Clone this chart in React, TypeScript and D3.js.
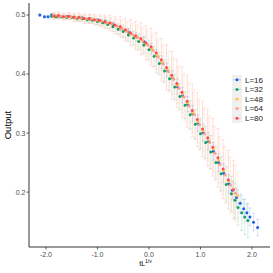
import * as d3 from "d3";

const SERIES = ["L=16", "L=32", "L=48", "L=64", "L=80"];
const COLORS = ["#1f5fe6", "#17a263", "#ffc24f", "#ff9f86", "#ff4d4d"];

const X16 = [-2.12, -2.03, -1.96, -1.89, -1.75, -1.6, -1.45, -1.3, -1.15, -1.0, -0.85, -0.7, -0.55, -0.4, -0.25, -0.1, 0.05, 0.15, 0.25, 0.35, 0.45, 0.55, 0.65, 0.75, 0.85, 0.95, 1.05, 1.15, 1.25, 1.35, 1.45, 1.55, 1.62, 1.7, 1.77, 1.84, 1.9, 1.96, 2.03, 2.11];
const Y16 = [0.5, 0.497, 0.497, 0.5, 0.498, 0.497, 0.496, 0.495, 0.493, 0.491, 0.489, 0.484, 0.478, 0.471, 0.463, 0.455, 0.443, 0.432, 0.42, 0.407, 0.394, 0.379, 0.364, 0.349, 0.333, 0.317, 0.301, 0.286, 0.269, 0.25, 0.232, 0.214, 0.203, 0.191, 0.181, 0.172, 0.165, 0.158, 0.149, 0.14];
const E16 = [0.002, 0.002, 0.002, 0.002, 0.002, 0.002, 0.002, 0.003, 0.003, 0.003, 0.004, 0.004, 0.005, 0.006, 0.007, 0.008, 0.009, 0.01, 0.011, 0.012, 0.012, 0.013, 0.013, 0.013, 0.014, 0.014, 0.014, 0.015, 0.015, 0.015, 0.016, 0.016, 0.016, 0.016, 0.016, 0.016, 0.015, 0.015, 0.015, 0.014];

const X32 = [-1.89, -1.8, -1.7, -1.6, -1.5, -1.4, -1.3, -1.2, -1.1, -1.0, -0.9, -0.8, -0.7, -0.6, -0.5, -0.4, -0.3, -0.2, -0.1, 0.0, 0.1, 0.2, 0.3, 0.4, 0.5, 0.6, 0.7, 0.8, 0.9, 1.0, 1.1, 1.2, 1.3, 1.4, 1.5, 1.6, 1.67, 1.73, 1.8, 1.86, 1.92];
const Y32 = [0.498, 0.497, 0.497, 0.496, 0.496, 0.494, 0.494, 0.492, 0.491, 0.489, 0.487, 0.484, 0.48, 0.476, 0.472, 0.466, 0.461, 0.455, 0.449, 0.441, 0.43, 0.418, 0.405, 0.392, 0.378, 0.362, 0.347, 0.331, 0.315, 0.299, 0.284, 0.268, 0.25, 0.231, 0.213, 0.197, 0.186, 0.174, 0.165, 0.158, 0.152];
const E32 = [0.003, 0.003, 0.003, 0.003, 0.003, 0.004, 0.004, 0.004, 0.005, 0.005, 0.006, 0.007, 0.008, 0.009, 0.01, 0.011, 0.012, 0.013, 0.014, 0.016, 0.017, 0.018, 0.019, 0.02, 0.021, 0.022, 0.023, 0.024, 0.025, 0.026, 0.027, 0.028, 0.028, 0.029, 0.03, 0.03, 0.03, 0.03, 0.03, 0.03, 0.029];

const X48 = [-1.85, -1.75, -1.65, -1.55, -1.45, -1.35, -1.25, -1.15, -1.05, -0.95, -0.85, -0.75, -0.65, -0.55, -0.45, -0.35, -0.25, -0.15, -0.05, 0.05, 0.15, 0.25, 0.35, 0.45, 0.55, 0.65, 0.75, 0.85, 0.95, 1.05, 1.15, 1.25, 1.35, 1.45, 1.55, 1.64, 1.72];
const Y48 = [0.499, 0.498, 0.497, 0.497, 0.496, 0.495, 0.494, 0.493, 0.492, 0.49, 0.488, 0.486, 0.482, 0.478, 0.474, 0.468, 0.463, 0.458, 0.451, 0.443, 0.432, 0.42, 0.408, 0.395, 0.381, 0.366, 0.351, 0.335, 0.319, 0.304, 0.289, 0.273, 0.254, 0.236, 0.218, 0.205, 0.194];
const E48 = [0.004, 0.004, 0.004, 0.004, 0.005, 0.005, 0.005, 0.006, 0.006, 0.007, 0.008, 0.009, 0.01, 0.012, 0.013, 0.015, 0.017, 0.019, 0.021, 0.023, 0.025, 0.027, 0.028, 0.03, 0.031, 0.032, 0.033, 0.034, 0.035, 0.036, 0.037, 0.038, 0.039, 0.04, 0.04, 0.04, 0.04];

const X64 = [-1.82, -1.72, -1.62, -1.52, -1.42, -1.32, -1.22, -1.12, -1.02, -0.92, -0.82, -0.72, -0.62, -0.52, -0.42, -0.32, -0.22, -0.12, -0.02, 0.08, 0.18, 0.28, 0.38, 0.48, 0.58, 0.68, 0.78, 0.88, 0.98, 1.08, 1.18, 1.28, 1.38, 1.48, 1.58, 1.68];
const Y64 = [0.499, 0.498, 0.497, 0.497, 0.495, 0.495, 0.493, 0.493, 0.491, 0.49, 0.487, 0.485, 0.481, 0.477, 0.472, 0.467, 0.462, 0.456, 0.449, 0.44, 0.429, 0.417, 0.404, 0.391, 0.376, 0.361, 0.346, 0.331, 0.314, 0.299, 0.284, 0.266, 0.247, 0.229, 0.212, 0.198];
const E64 = [0.005, 0.005, 0.005, 0.005, 0.006, 0.006, 0.007, 0.007, 0.008, 0.009, 0.01, 0.011, 0.013, 0.015, 0.017, 0.019, 0.022, 0.024, 0.027, 0.029, 0.031, 0.033, 0.035, 0.037, 0.038, 0.04, 0.041, 0.042, 0.043, 0.044, 0.045, 0.046, 0.047, 0.048, 0.048, 0.048];

const X80 = [-1.84, -1.76, -1.66, -1.56, -1.46, -1.36, -1.26, -1.16, -1.06, -0.96, -0.86, -0.76, -0.66, -0.56, -0.46, -0.36, -0.26, -0.16, -0.06, 0.04, 0.14, 0.24, 0.34, 0.44, 0.54, 0.64, 0.74, 0.84, 0.94, 1.04, 1.14, 1.24, 1.34, 1.44, 1.54, 1.64];
const Y80 = [0.498, 0.499, 0.497, 0.498, 0.496, 0.496, 0.494, 0.494, 0.492, 0.491, 0.488, 0.487, 0.483, 0.48, 0.475, 0.47, 0.465, 0.46, 0.453, 0.446, 0.436, 0.424, 0.411, 0.398, 0.384, 0.369, 0.354, 0.338, 0.323, 0.307, 0.292, 0.276, 0.258, 0.239, 0.221, 0.204];
const E80 = [0.006, 0.006, 0.006, 0.006, 0.007, 0.007, 0.008, 0.008, 0.009, 0.01, 0.011, 0.013, 0.015, 0.017, 0.019, 0.022, 0.024, 0.027, 0.029, 0.032, 0.034, 0.036, 0.038, 0.04, 0.041, 0.043, 0.044, 0.045, 0.046, 0.047, 0.048, 0.049, 0.05, 0.05, 0.05, 0.05];

const X_TICKS = [-2, -1, 0, 1, 2];
const Y_TICKS = [0.2, 0.3, 0.4, 0.5];

const XS = [X16, X32, X48, X64, X80];
const YS = [Y16, Y32, Y48, Y64, Y80];
const ES = [E16, E32, E48, E64, E80];

const W = 273;
const H = 273;
const panel = { left: 29, right: 270, top: 3, bottom: 247 };

export default function App() {
  const x = d3.scaleLinear().domain([-2.33, 2.35]).range([panel.left, panel.right]);
  const y = d3.scaleLinear().domain([0.107, 0.5203]).range([panel.bottom, panel.top]);
  const fmt = (v: number) => d3.format(".1f")(v).replace("−", "-");

  const series = SERIES.map((name, i) => ({
    name,
    color: COLORS[i],
    pts: XS[i].map((xv, j) => ({ x: xv, y: YS[i][j], e: ES[i][j] })),
  }));

  const legendTop = 75;
  const rowH = 9.6;

  return (
    <div style={{ position: "fixed", left: 0, top: 0 }}>
      <svg width={W} height={H} style={{ display: "block", background: "#fff" }} fontFamily="'Liberation Sans', Arial, sans-serif">
        {/* error bars */}
        {series.map((s) => (
          <g key={s.name} stroke={s.color} strokeOpacity={0.22} strokeWidth={0.8}>
            {s.pts.map((p, j) => (
              <g key={j}>
                <line x1={x(p.x)} x2={x(p.x)} y1={y(p.y - p.e)} y2={y(p.y + p.e)} />
                <line x1={x(p.x) - 1.5} x2={x(p.x) + 1.5} y1={y(p.y - p.e)} y2={y(p.y - p.e)} />
                <line x1={x(p.x) - 1.5} x2={x(p.x) + 1.5} y1={y(p.y + p.e)} y2={y(p.y + p.e)} />
              </g>
            ))}
          </g>
        ))}
        {/* points */}
        {series.map((s) => (
          <g key={s.name} fill={s.color}>
            {s.pts.map((p, j) => (
              <circle key={j} cx={x(p.x)} cy={y(p.y)} r={1.5} />
            ))}
          </g>
        ))}

        {/* axes */}
        <line x1={panel.left} x2={panel.left} y1={panel.top} y2={panel.bottom} stroke="#333" strokeWidth={1} />
        <line x1={panel.left} x2={panel.right} y1={panel.bottom} y2={panel.bottom} stroke="#333" strokeWidth={1} />
        {Y_TICKS.map((t) => (
          <g key={t}>
            <line x1={panel.left - 2.5} x2={panel.left} y1={y(t)} y2={y(t)} stroke="#333" strokeWidth={0.8} />
            <text x={panel.left - 3.5} y={y(t)} dy="0.35em" textAnchor="end" fontSize={7} fill="#4d4d4d">
              {fmt(t)}
            </text>
          </g>
        ))}
        {X_TICKS.map((t) => (
          <g key={t}>
            <line x1={x(t)} x2={x(t)} y1={panel.bottom} y2={panel.bottom + 2.5} stroke="#333" strokeWidth={0.8} />
            <text x={x(t)} y={panel.bottom + 10} textAnchor="middle" fontSize={7} fill="#4d4d4d">
              {fmt(t)}
            </text>
          </g>
        ))}
        <text transform={`translate(11,${(panel.top + panel.bottom) / 2}) rotate(-90)`} textAnchor="middle" fontSize={9.5} fill="#000">
          Output
        </text>
        <text x={(panel.left + panel.right) / 2 - 4} y={266} textAnchor="middle" fontSize={7} fill="#000">
          tL<tspan dy={-3} fontSize={5}>1/ν</tspan>
        </text>

        {/* legend */}
        <rect x={232} y={legendTop} width={10} height={rowH * SERIES.length} fill="#f0f0f0" />
        {series.map((s, i) => {
          const cy = legendTop + rowH * (i + 0.5);
          return (
            <g key={s.name}>
              <line x1={233} x2={241} y1={cy} y2={cy} stroke={s.color} strokeOpacity={0.35} strokeWidth={0.8} />
              <circle cx={237} cy={cy} r={1.5} fill={s.color} />
              <text x={245} y={cy} dy="0.35em" fontSize={8} fill="#1a1a1a">
                {s.name}
              </text>
            </g>
          );
        })}
      </svg>
    </div>
  );
}
